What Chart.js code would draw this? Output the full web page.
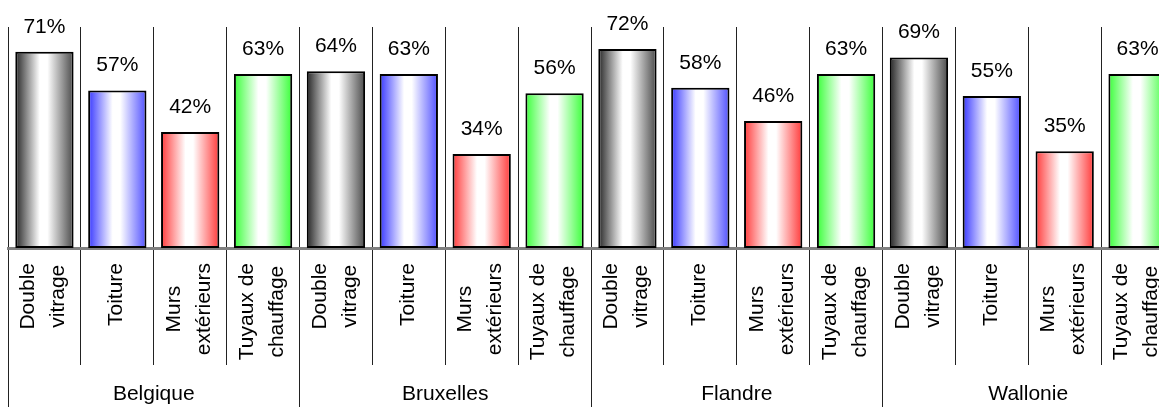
<!DOCTYPE html>
<html lang="fr">
<head>
    <meta charset="UTF-8">
    <title>Isolation par région</title>
    <script src="https://cdnjs.cloudflare.com/ajax/libs/Chart.js/4.4.0/chart.umd.min.js"></script>
    <style>
        body { margin: 0; overflow: hidden; background: #fff; }
        canvas { display: block; }
    </style>
</head>
<body>
    <canvas id="chart" width="1182" height="407"></canvas>

    <script>
        // Data
        const regions = ['Belgique', 'Bruxelles', 'Flandre', 'Wallonie'];
        const measures = [['Double', 'vitrage'], ['Toiture'], ['Murs', 'extérieurs'], ['Tuyaux de', 'chauffage']];
        const belgique = [71, 57, 42, 63];
        const bruxelles = [64, 63, 34, 56];
        const flandre = [72, 58, 46, 63];
        const wallonie = [69, 55, 35, 63];

        const values = [].concat(belgique, bruxelles, flandre, wallonie);
        const categoryLabels = regions.flatMap(() => measures);

        // gradient colours per measure: left edge, right edge
        const edgeColors = [
            ['#262626', '#4a4a4a'],
            ['#3838ff', '#5050ff'],
            ['#ff3a3a', '#ff3a3a'],
            ['#3aff3a', '#3aff3a']
        ];
        const BAR_PCT = 0.8;
        const FONT = '"Liberation Sans", Arial, sans-serif';

        function barGradient(c) {
            const chart = c.chart;
            const xs = chart.scales.x;
            const cols = edgeColors[c.dataIndex % 4];
            if (!xs || !xs.width || c.type !== 'data') return cols[0];
            const cx = xs.getPixelForValue(c.dataIndex);
            const w = xs.width / categoryLabels.length * BAR_PCT;
            const g = chart.ctx.createLinearGradient(cx - w / 2, 0, cx + w / 2, 0);
            g.addColorStop(0, cols[0]);
            g.addColorStop(0.42, '#ffffff');
            g.addColorStop(0.55, '#ffffff');
            g.addColorStop(1, cols[1]);
            return g;
        }

        // percentage above each bar
        const valueLabels = {
            id: 'valueLabels',
            afterDatasetsDraw(chart) {
                const ctx = chart.ctx;
                const meta = chart.getDatasetMeta(0);
                ctx.save();
                ctx.font = '21px ' + FONT;
                ctx.fillStyle = '#000';
                ctx.textAlign = 'center';
                ctx.textBaseline = 'middle';
                meta.data.forEach((bar, i) => {
                    ctx.fillText(values[i] + '%', bar.x, bar.y - 25);
                });
                ctx.restore();
            }
        };

        // rotated category names, block centred on the tick, lines centred in the block
        const categoryText = {
            id: 'categoryText',
            afterDraw(chart) {
                const xs = chart.scales.x;
                const ctx = chart.ctx;
                const lh = 30;
                ctx.save();
                ctx.font = '21px ' + FONT;
                ctx.fillStyle = '#000';
                ctx.textAlign = 'center';
                ctx.textBaseline = 'middle';
                categoryLabels.forEach((lines, i) => {
                    const px = xs.getPixelForTick(i);
                    const maxW = Math.max(...lines.map(l => ctx.measureText(l).width));
                    const cy = xs.top + 15 + maxW / 2;
                    lines.forEach((line, j) => {
                        ctx.save();
                        ctx.translate(px - 1 + (j - (lines.length - 1) / 2) * lh, cy);
                        ctx.rotate(-Math.PI / 2);
                        ctx.fillText(line, 0, 0);
                        ctx.restore();
                    });
                });
                ctx.restore();
            }
        };

        new Chart(document.getElementById('chart'), {
            type: 'bar',
            data: {
                labels: categoryLabels.map(l => l.join(' ')),
                datasets: [{
                    data: values,
                    backgroundColor: barGradient,
                    borderColor: '#000',
                    borderWidth: 2,
                    borderSkipped: false,
                    barPercentage: BAR_PCT,
                    categoryPercentage: 1
                }]
            },
            options: {
                responsive: false,
                animation: false,
                layout: { padding: { top: 27, left: 8, right: 8, bottom: 0 } },
                plugins: {
                    legend: { display: false },
                    tooltip: { enabled: false }
                },
                scales: {
                    y: { display: false, min: 0, max: 80 },
                    x: {
                        type: 'category',
                        position: 'bottom',
                        offset: true,
                        grid: { offset: true, color: '#222', lineWidth: 1, drawTicks: true, tickLength: 117 },
                        border: { display: true, color: '#808080', width: 3 },
                        ticks: { display: false },
                        afterFit(scale) { scale.height = 117; scale.paddingLeft = 0; scale.paddingRight = 0; }
                    },
                    x2: {
                        type: 'category',
                        position: 'bottom',
                        labels: regions,
                        offset: true,
                        grid: { offset: true, drawOnChartArea: false, color: '#222', lineWidth: 1, tickLength: 42 },
                        border: { display: false },
                        ticks: {
                            autoSkip: false, maxRotation: 0, minRotation: 0, padding: -25,
                            color: '#000', font: { family: FONT, size: 21 }
                        },
                        afterFit(scale) { scale.height = 42; scale.paddingLeft = 0; scale.paddingRight = 0; }
                    }
                }
            },
            plugins: [valueLabels, categoryText]
        });
    </script>
</body>
</html>
